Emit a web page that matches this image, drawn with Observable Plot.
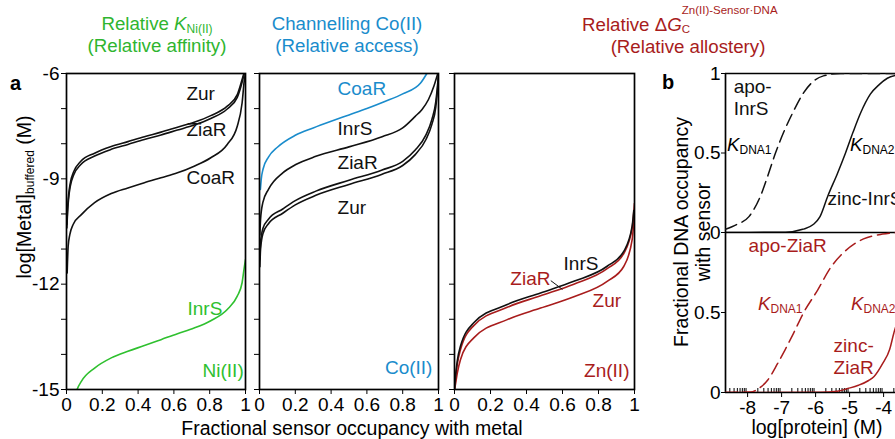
<!DOCTYPE html>
<html><head><meta charset="utf-8">
<script src="https://cdn.jsdelivr.net/npm/d3@7"></script>
<script src="https://cdn.jsdelivr.net/npm/@observablehq/plot@0.6"></script>
<style>
html,body{margin:0;padding:0;background:#fff;overflow:hidden;}
#root{position:relative;width:895px;height:439px;overflow:hidden;font-family:"Liberation Sans",Arial,sans-serif;}
#root svg{position:absolute;left:0;top:0;max-width:none;}
.t{position:absolute;white-space:nowrap;font-size:18.7px;line-height:22px;}
.t sub,.t sup{font-size:12px;line-height:0;vertical-align:baseline;position:relative;top:3px;}
.rot{transform:translate(-50%,-50%) rotate(-90deg);text-align:center;}
.ctr{transform:translateX(-50%);text-align:center;}
.ax{font-size:19.5px;}
</style></head><body><div id="root">
<div class="t ctr" style="left:157px;top:13px;color:#2fb52f">Relative <i>K</i><sub>Ni(II)</sub><br>(Relative affinity)</div>
<div class="t ctr" style="left:347px;top:13px;color:#1a8ccc">Channelling Co(II)<br>(Relative access)</div>
<div class="t" style="left:582px;top:14px;color:#a81c1c">Relative Δ<i>G</i><span style="position:relative;display:inline-block;width:95px;height:1px"><span style="position:absolute;left:0;top:-26px;font-size:11.5px;line-height:13px">Zn(II)-Sensor·DNA</span><span style="position:absolute;left:0;top:-7px;font-size:11.5px;line-height:13px">C</span></span></div>
<div class="t ctr" style="left:688px;top:36px;color:#a81c1c">(Relative allostery)</div>
<div class="t" style="left:10px;top:72px;font-weight:bold;font-size:20px">a</div>
<div class="t" style="left:662px;top:71px;font-weight:bold;font-size:20px">b</div>
<div class="t rot ax" style="left:24px;top:197px">log[Metal]<sub>buffered</sub> (M)</div>
<div class="t ctr ax" style="left:352px;top:417px">Fractional sensor occupancy with metal</div>
<div class="t rot ax" style="left:692px;top:232px">Fractional DNA occupancy<br>with sensor</div>
<div class="t ctr ax" style="left:817px;top:416px">log[protein] (M)</div>
<div class="t" style="left:727px;top:134px"><i>K</i><sub>DNA1</sub></div>
<div class="t" style="left:850px;top:134px"><i>K</i><sub>DNA2</sub></div>
<div class="t" style="left:758px;top:293px;color:#a81c1c"><i>K</i><sub>DNA1</sub></div>
<div class="t" style="left:851px;top:293px;color:#a81c1c"><i>K</i><sub>DNA2</sub></div>
</div>
<script>
// ---------- data: [fractional occupancy, log[Metal]] ----------
const niZur  = [[0.002,-10.3],[0.006,-9.85],[0.012,-9.45],[0.022,-9.1],[0.04,-8.8],[0.08,-8.5],[0.157,-8.27],[0.25,-8.08],[0.343,-7.94],[0.435,-7.80],[0.528,-7.67],[0.62,-7.53],[0.713,-7.39],[0.806,-7.20],[0.898,-6.93],[0.954,-6.60],[0.981,-6.17],[0.991,-6.0]];
const niZiaR = [[0.002,-10.4],[0.006,-9.95],[0.012,-9.55],[0.022,-9.19],[0.04,-8.89],[0.08,-8.59],[0.157,-8.35],[0.25,-8.16],[0.343,-8.02],[0.435,-7.88],[0.528,-7.75],[0.62,-7.61],[0.713,-7.47],[0.806,-7.28],[0.898,-7.01],[0.954,-6.68],[0.981,-6.25],[0.993,-6.0]];
const niCoaR = [[0.0037,-11.68],[0.0093,-10.92],[0.0185,-10.59],[0.037,-10.30],[0.083,-10.02],[0.157,-9.68],[0.25,-9.42],[0.343,-9.26],[0.435,-9.11],[0.528,-8.97],[0.62,-8.83],[0.713,-8.64],[0.806,-8.40],[0.898,-8.02],[0.954,-7.50],[0.981,-6.84],[0.994,-6.17],[1.0,-6.0]];
const niInrS = [[0.04,-15.4],[0.056,-15.05],[0.083,-14.77],[0.157,-14.39],[0.25,-14.10],[0.343,-13.91],[0.435,-13.75],[0.528,-13.58],[0.62,-13.41],[0.713,-13.25],[0.806,-13.04],[0.898,-12.72],[0.954,-12.34],[0.981,-11.96],[0.994,-11.49],[1.0,-11.30]];

const coCoaR = [[0.005,-9.3],[0.01,-9.0],[0.02,-8.72],[0.05,-8.38],[0.1,-8.1],[0.2,-7.76],[0.3,-7.55],[0.4,-7.36],[0.5,-7.18],[0.6,-7.0],[0.7,-6.8],[0.8,-6.58],[0.9,-6.27],[0.935,-6.0]];
const coInrS = [[0.002,-10.6],[0.006,-10.15],[0.0185,-9.68],[0.05,-9.3],[0.13,-8.83],[0.2,-8.6],[0.315,-8.36],[0.5,-8.09],[0.685,-7.80],[0.8,-7.55],[0.87,-7.22],[0.907,-7.03],[0.944,-6.74],[0.975,-6.35],[0.996,-6.0]];
const coZiaR = [[0.002,-11.3],[0.006,-10.8],[0.02,-10.4],[0.05,-10.15],[0.13,-9.86],[0.2,-9.62],[0.315,-9.35],[0.5,-9.04],[0.685,-8.75],[0.8,-8.5],[0.87,-8.18],[0.93,-7.75],[0.963,-7.31],[0.985,-6.8],[0.997,-6.2],[1.0,-6.0]];
const coZur  = [[0.002,-11.5],[0.006,-11.0],[0.02,-10.55],[0.05,-10.28],[0.13,-9.98],[0.2,-9.74],[0.315,-9.47],[0.5,-9.16],[0.685,-8.87],[0.8,-8.62],[0.87,-8.31],[0.93,-7.88],[0.963,-7.45],[0.985,-6.95],[0.997,-6.3],[1.0,-6.1]];

const znInrS = [[0,-15.0],[0.0056,-14.62],[0.015,-14.2],[0.033,-13.77],[0.107,-13.10],[0.293,-12.58],[0.478,-12.25],[0.663,-11.92],[0.848,-11.49],[0.941,-11.06],[0.987,-10.35],[0.996,-9.9]];
const znZiaR = [[0,-15.0],[0.0056,-14.7],[0.015,-14.3],[0.033,-13.87],[0.107,-13.18],[0.293,-12.66],[0.478,-12.33],[0.663,-12.0],[0.848,-11.56],[0.941,-11.12],[0.987,-10.4],[1.0,-9.7]];
const znZur  = [[0,-15.0],[0.0056,-14.85],[0.015,-14.55],[0.033,-14.15],[0.107,-13.53],[0.293,-13.01],[0.478,-12.68],[0.663,-12.36],[0.848,-11.92],[0.941,-11.49],[0.987,-10.73],[1.0,-9.9]];

// ---------- data: [log[protein], fractional DNA occupancy] ----------
const apoInrS  = [[-8.65,0.02],[-8.32,0.05],[-7.96,0.1],[-7.6,0.24],[-7.4,0.36],[-7.18,0.5],[-6.94,0.63],[-6.68,0.75],[-6.35,0.88],[-6.07,0.95],[-5.77,0.985],[-5.26,1.0],[-3.6,1.0]];
const zincInrS = [[-8.65,0],[-6.89,0.002],[-6.38,0.02],[-6.07,0.05],[-5.87,0.1],[-5.64,0.23],[-5.36,0.37],[-5.12,0.5],[-4.9,0.63],[-4.68,0.75],[-4.39,0.87],[-4.13,0.93],[-3.89,0.97],[-3.6,0.99]];
const apoZiaR  = [[-8.65,0],[-7.91,0.003],[-7.71,0.02],[-7.4,0.08],[-7.12,0.18],[-6.89,0.27],[-6.65,0.37],[-6.35,0.5],[-5.94,0.64],[-5.56,0.78],[-5.2,0.87],[-4.85,0.93],[-4.59,0.96],[-4.03,0.99],[-3.6,1.0]];
const zincZiaR = [[-8.65,0],[-5.87,0.002],[-5.36,0.008],[-5.05,0.025],[-4.74,0.045],[-4.44,0.075],[-4.28,0.1],[-4.03,0.18],[-3.82,0.27],[-3.7,0.37],[-3.6,0.44]];

// ---------- ticks ----------
const aXTicks = [0,0.2,0.4,0.6,0.8,1];
const aYTicks = [-6,-7,-8,-9,-10,-11,-12,-13,-14,-15];
const aYLabels = [-6,-9,-12,-15];
const bXTicks = [-8,-7,-6,-5,-4];
const bMinorSteps = [0.301,0.477,0.602,0.699,0.778,0.845,0.903,0.954];
const bDecades = [-9,-8,-7,-6,-5,-4];
const bYTicks = [0,0.5,1];

const BLACK="#111", GREEN="#2fc02f", BLUE="#1a8ccc", RED="#a81c1c";
const W=895, H=439;
const FONT="background:transparent;overflow:visible;font-family:'Liberation Sans',Arial,sans-serif;font-size:19px;";
const rows = pts => pts.map(([x,y])=>({x,y}));
const root = document.getElementById("root");

function panelA(left, right, series, startLabels, endLabels, showY, extra=[]) {
  return Plot.plot({
    width:W, height:H, marginLeft:left, marginRight:W-right, marginTop:73, marginBottom:H-389,
    style:FONT,
    x:{domain:[0,1]}, y:{domain:[-15,-6]}, color:{type:"identity"},
    marks:[
      Plot.axisX({ticks:aXTicks, tickFormat:d=>String(d), tickSize:5, tickPadding:3, label:null}),
      Plot.axisY({ticks:aYTicks, tickFormat:d=>(showY && aYLabels.includes(d)) ? String(d) : "", tickSize:5, tickPadding:2, label:null}),
      ...series.map(s=>Plot.line(rows(s.data),{x:"x",y:"y",stroke:s.color,strokeWidth:1.6,curve:"monotone-x",clip:true})),
      ...extra,
      Plot.text(startLabels,{x:"x",y:"y",text:"text",fill:"color",textAnchor:"start"}),
      Plot.text(endLabels,{x:"x",y:"y",text:"text",fill:"color",textAnchor:"end"}),
      Plot.frame({stroke:"black",strokeWidth:1.7})
    ]
  });
}

const p1 = panelA(66,245,
  [{data:niZur,color:BLACK},{data:niZiaR,color:BLACK},{data:niCoaR,color:BLACK},{data:niInrS,color:GREEN}],
  [{text:"Zur",x:0.67,y:-6.57,color:BLACK},{text:"ZiaR",x:0.67,y:-7.62,color:BLACK},{text:"CoaR",x:0.67,y:-8.96,color:BLACK},{text:"InrS",x:0.676,y:-12.70,color:GREEN}],
  [{text:"Ni(II)",x:0.99,y:-14.46,color:GREEN}], true);

const p2 = panelA(259,438,
  [{data:coCoaR,color:BLUE},{data:coInrS,color:BLACK},{data:coZiaR,color:BLACK},{data:coZur,color:BLACK}],
  [{text:"CoaR",x:0.436,y:-6.43,color:BLUE},{text:"InrS",x:0.436,y:-7.57,color:BLACK},{text:"ZiaR",x:0.436,y:-8.56,color:BLACK},{text:"Zur",x:0.436,y:-9.82,color:BLACK}],
  [{text:"Co(II)",x:0.966,y:-14.38,color:BLUE}], false);

const p3 = panelA(454,634,
  [{data:znZur,color:RED},{data:znZiaR,color:RED},{data:znInrS,color:BLACK}],
  [{text:"InrS",x:0.606,y:-11.41,color:BLACK},{text:"Zur",x:0.767,y:-12.47,color:RED}],
  [{text:"ZiaR",x:0.533,y:-11.84,color:RED},{text:"Zn(II)",x:0.972,y:-14.46,color:RED}], false,
  [Plot.link([0],{x1:()=>0.535,y1:()=>-11.9,x2:()=>0.6,y2:()=>-12.15,stroke:BLACK,strokeWidth:1})]);

const bDomain = [-8.65,-3.65];
const pbTop = Plot.plot({
  width:W, height:H, marginLeft:725, marginRight:0, marginTop:73, marginBottom:H-232,
  style:FONT, x:{domain:bDomain, axis:null}, y:{domain:[0,1]}, color:{type:"identity"},
  marks:[
    Plot.axisY({ticks:bYTicks, tickFormat:d=>String(d), tickSize:4, tickPadding:1, label:null}),
    Plot.ruleY([0,1],{stroke:"black",strokeWidth:1.7}),
    Plot.ruleX([bDomain[0]],{stroke:"black",strokeWidth:1.7}),
    Plot.line(rows(apoInrS),{x:"x",y:"y",stroke:BLACK,strokeWidth:1.5,strokeDasharray:"12,6",curve:"monotone-x",clip:true}),
    Plot.line(rows(zincInrS),{x:"x",y:"y",stroke:BLACK,strokeWidth:1.5,curve:"monotone-x",clip:true}),
    Plot.text([{text:"apo-",x:-8.41,y:0.915},{text:"InrS",x:-8.41,y:0.78},{text:"zinc-InrS",x:-5.65,y:0.214}],
      {x:"x",y:"y",text:"text",fill:BLACK,textAnchor:"start"})
  ]
});

const bMinor = bDecades.flatMap(d=>bMinorSteps.map(s=>d+s)).filter(v=>v>bDomain[0]&&v<bDomain[1]);
const pbBot = Plot.plot({
  width:W, height:H, marginLeft:725, marginRight:0, marginTop:232, marginBottom:H-392,
  style:FONT, x:{domain:bDomain}, y:{domain:[0,1]}, color:{type:"identity"},
  marks:[
    Plot.axisY({ticks:bYTicks, tickFormat:d=>d===1?"":String(d), tickSize:4, tickPadding:1, label:null}),
    Plot.axisX({ticks:bXTicks, tickFormat:d=>String(d), tickSize:5, tickPadding:3, label:null}),
    Plot.tickX(bMinor,{x:d=>d, insetTop:156, stroke:"black", strokeWidth:1}),
    Plot.ruleY([0],{stroke:"black",strokeWidth:1.7}),
    Plot.ruleX([bDomain[0]],{stroke:"black",strokeWidth:1.7}),
    Plot.line(rows(apoZiaR),{x:"x",y:"y",stroke:RED,strokeWidth:1.5,strokeDasharray:"12,6",curve:"monotone-x",clip:true}),
    Plot.line(rows(zincZiaR),{x:"x",y:"y",stroke:RED,strokeWidth:1.5,curve:"monotone-x",clip:true}),
    Plot.text([{text:"apo-ZiaR",x:-7.97,y:0.919},{text:"zinc-",x:-5.47,y:0.294},{text:"ZiaR",x:-5.47,y:0.156}],
      {x:"x",y:"y",text:"text",fill:RED,textAnchor:"start"})
  ]
});

for (const p of [pbBot, pbTop, p3, p2, p1]) root.prepend(p);
</script></body></html>
